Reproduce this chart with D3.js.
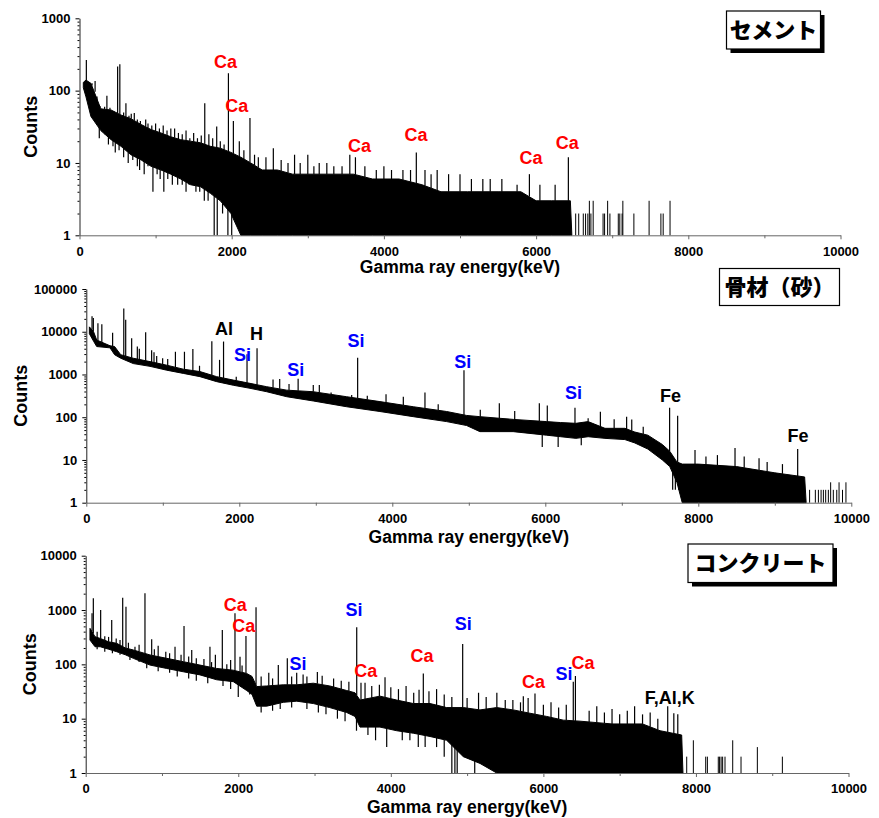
<!DOCTYPE html>
<html>
<head>
<meta charset="utf-8">
<script src="https://cdn.jsdelivr.net/npm/d3@7"></script>
<style>
body { margin: 0; background: #fff; }
svg text { font-family: "Liberation Sans", Arial, sans-serif; font-weight: bold; fill: #000; }
svg text.jp { font-family: "Noto Sans CJK JP", sans-serif; font-weight: 900; }
</style>
</head>
<body>
<script>
(function() {

    // ---- セメント (cement) ----
    var cementE  = [50, 85, 150, 280, 415, 545, 675, 810, 940, 1070, 1200, 1330, 1460, 1590, 1720, 1850, 1990, 2120, 2250, 2400, 2600, 2800, 3200, 3600, 3850, 4200, 4500, 4750, 5100, 5500, 5800, 6000, 6200, 6450, 6470];
    var cementHi = [130, 140, 126, 56, 54, 46, 41, 34, 29, 26, 23, 21, 20, 19, 17, 16, 14, 12, 10, 8, 8, 7, 7, 7, 6, 6, 5, 4, 4, 4, 4, 3, 3, 3, 1];
    var cementLo = [110, 82, 44, 28, 21, 17, 13, 11, 9, 8, 7, 6, 5, 4.7, 3.8, 3, 2, 1, 1, 1, 1, 1, 1, 1, 1, 1, 1, 1, 1, 1, 1, 1, 1, 1, 1];
    var cementPeakE = [90, 165, 205, 230, 270, 300, 330, 360, 400, 450, 501, 530, 580, 610, 650, 680, 720, 760, 800, 870, 900, 950, 1000, 1050, 1100, 1150, 1200, 1250, 1300, 1350, 1400, 1450, 1500, 1550, 1600, 1646, 1700, 1750, 1803, 1850, 1900, 1957, 2022, 2100, 2160, 2240, 2300, 2350, 2450, 2547, 2650, 2740, 2826, 2900, 3000, 3080, 3150, 3250, 3342, 3450, 3552, 3626, 3750, 3900, 4000, 4100, 4250, 4350, 4426, 4540, 4620, 4700, 4850, 5000, 5150, 5300, 5397, 5550, 5750, 5912, 6050, 6250, 6424];
    var cementPeakC = [265, 126, 136, 70, 60, 55, 60, 85, 58, 50, 215, 232, 50, 67, 45, 48, 49, 40, 38, 40, 35, 33, 35, 30, 33, 28, 30, 30, 26, 25, 28, 22, 26, 22, 24, 67, 25, 22, 32, 20, 18, 174, 38, 20, 15, 42, 13, 12, 12, 16, 11, 10, 13, 10, 13, 9, 10, 10, 9, 9, 13, 12, 9, 8, 9, 8, 8, 8, 14, 8, 7, 8, 7, 7, 6, 6, 6, 6, 5, 7, 5, 5, 12];
    var cementDipE = [260, 330, 380, 440, 470, 520, 580, 640, 700, 760, 790, 850, 900, 965, 1020, 1060, 1108, 1160, 1220, 1290, 1350, 1400, 1440, 1530, 1580, 1640, 1690, 1770, 1810, 1880, 1950, 2000];
    var cementDipC = [22, 25, 18, 17, 14, 15, 12, 10, 11, 9, 8, 7, 9, 4, 7, 6, 4, 6, 5, 5, 5, 4, 5, 4, 4, 3, 3, 1, 1, 2, 1, 1];
    var cementSparseE = [6520, 6560, 6620, 6650, 6680, 6700, 6720, 6750, 6880, 6900, 6940, 6970, 7080, 7100, 7130, 7140, 7285, 7485, 7640, 7670, 7760];
    var cementSparseC = [2, 2, 2, 2, 2, 3, 2, 3, 2, 2, 3, 2, 2, 2, 2, 3, 2, 3, 2, 2, 3];
    var cementLabelName = ["Ca", "Ca", "Ca", "Ca", "Ca", "Ca"];
    var cementLabelE = [1918, 2067, 3681, 4422, 5933, 6411];
    var cementLabelC = [249, 62, 17.3, 24.4, 11.8, 19.3];

    // ---- 骨材(砂) (aggregate, sand) ----
    var sandE  = [40, 95, 136, 310, 370, 450, 614, 833, 1051, 1268, 1486, 1704, 1921, 2140, 2358, 2620, 2967, 3402, 3838, 4274, 4710, 4971, 5145, 5580, 6016, 6200, 6400, 6560, 6780, 7040, 7170, 7340, 7530, 7627, 7720, 7790, 8000, 8500, 9000, 9390, 9410];
    var sandHi = [13000, 10000, 6400, 4700, 4500, 2900, 2400, 2000, 1650, 1330, 1170, 890, 740, 620, 518, 430, 395, 302, 232, 176, 136, 110, 103, 89, 79, 75, 72, 79, 55, 55, 45, 38, 23, 16, 9, 8, 8, 7, 5, 4, 1];
    var sandLo = [9000, 6000, 4500, 4200, 2900, 2400, 1800, 1550, 1260, 1060, 890, 680, 560, 475, 395, 302, 240, 176, 136, 103, 79, 64, 46, 46, 38, 35, 32, 35, 32, 30, 25, 18, 10, 7, 3, 1, 1, 1, 1, 1, 1];
    var sandPeakE = [75, 92, 152, 203, 344, 490, 515, 593, 667, 693, 776, 854, 885, 920, 998, 1064, 1165, 1283, 1393, 1480, 1641, 1742, 1794, 1960, 2101, 2232, 2441, 2528, 2650, 2769, 2967, 3046, 3200, 3469, 3547, 3673, 3918, 4144, 4427, 4600, 4937, 5150, 5399, 5600, 5922, 6026, 6388, 6560, 6720, 6900, 7063, 7130, 7280, 7625, 7730, 7957, 8100, 8250, 8480, 8600, 8794, 8900, 9100, 9299];
    var sandPeakC = [23000, 21000, 15800, 15000, 9500, 35000, 19000, 7000, 4500, 4000, 9700, 3700, 3300, 2700, 2400, 2300, 3400, 3400, 3960, 1600, 6000, 2200, 5900, 890, 2970, 4100, 760, 780, 600, 790, 570, 570, 380, 330, 2470, 320, 345, 300, 380, 200, 1260, 150, 213, 140, 213, 187, 167, 94, 134, 90, 103, 89, 60, 167, 108, 17, 12, 13, 19, 12, 11, 9, 8, 18];
    var sandDipE = [5960, 6168, 6470, 7665, 7700, 7745];
    var sandDipC = [20, 20, 22, 2, 2, 2];
    var sandSparseE = [9455, 9530, 9570, 9605, 9635, 9665, 9700, 9730, 9765, 9810, 9840, 9885, 9930];
    var sandSparseC = [2, 2, 2, 2, 2, 2, 2, 3, 2, 2, 3, 2, 3];
    var sandLabelName = ["Al", "H", "Si", "Si", "Si", "Si", "Si", "Fe", "Fe"];
    var sandLabelE = [1801, 2224, 2042, 2737, 3525, 4920, 6370, 7638, 9303];
    var sandLabelC = [12000, 9190, 2966, 1300, 6070, 2034, 365, 322, 37];

    // ---- コンクリート (concrete) ----
    var concE  = [56, 122, 190, 300, 406, 520, 624, 843, 1062, 1279, 1498, 1717, 1935, 2110, 2180, 2242, 2373, 2590, 2766, 2984, 3200, 3421, 3530, 3596, 3858, 4077, 4295, 4514, 4732, 4950, 5169, 5388, 5606, 5824, 6043, 6261, 6480, 6900, 7300, 7530, 7813, 7830];
    var concHi = [460, 323, 300, 260, 244, 200, 184, 149, 129, 112, 97, 84, 78, 68, 60, 39, 40, 42, 42, 45, 40, 33, 30, 22, 26, 22, 19, 19, 16, 16, 14.5, 16, 14.5, 12.6, 11, 9.4, 9, 8, 8, 6, 5, 1];
    var concLo = [280, 211, 211, 190, 171, 150, 129, 97, 84, 73, 64, 52, 48, 33, 28, 17, 17, 20, 21, 19, 16, 13, 11, 7, 7, 6, 5.4, 4.7, 4, 2, 1.5, 1, 1, 1, 1, 1, 1, 1, 1, 1, 1, 1];
    var concPeakE = [83, 100, 150, 196, 250, 300, 341, 400, 450, 485, 528, 560, 646, 700, 777, 865, 900, 950, 1050, 1100, 1171, 1250, 1289, 1350, 1390, 1450, 1550, 1629, 1650, 1700, 1791, 1850, 1900, 1957, 2023, 2050, 2101, 2233, 2300, 2400, 2450, 2525, 2643, 2700, 2766, 2850, 2900, 3037, 3100, 3250, 3350, 3450, 3553, 3609, 3662, 3750, 3850, 3924, 4000, 4100, 4200, 4300, 4370, 4426, 4500, 4600, 4700, 4800, 4942, 5000, 5150, 5250, 5390, 5500, 5600, 5700, 5737, 5800, 5890, 6000, 6100, 6200, 6300, 6392, 6420, 6600, 6700, 6800, 6900, 7000, 7100, 7196, 7300, 7400, 7500, 7630, 7710, 7762];
    var concPeakC = [870, 1640, 400, 1000, 330, 320, 655, 300, 280, 1690, 1150, 250, 210, 230, 2030, 290, 190, 220, 170, 160, 210, 150, 508, 140, 184, 130, 125, 210, 110, 150, 428, 100, 120, 870, 138, 95, 333, 1120, 60, 70, 55, 97, 130, 60, 70, 65, 60, 72, 62, 55, 50, 48, 480, 46, 46, 40, 42, 58, 38, 35, 40, 30, 34, 68, 32, 35, 28, 25, 237, 24, 30, 25, 30, 22, 22, 20, 26, 24, 29, 18, 20, 16, 18, 48, 61, 14, 17, 13, 15, 12, 14, 17, 12, 13, 10, 17, 12.6, 12];
    var concDipE = [150, 250, 350, 450, 580, 700, 800, 950, 1100, 1200, 1350, 1450, 1600, 1800, 1900, 2000, 2150, 2300, 2450, 2550, 2700, 2900, 3050, 3150, 3300, 3400, 3550, 3700, 3800, 3946, 4150, 4250, 4360, 4450, 4600, 4700, 4800, 4840, 4870, 5100];
    var concDipC = [190, 170, 160, 150, 120, 110, 85, 75, 70, 60, 55, 50, 45, 40, 35, 25, 28, 13, 14, 15, 16, 15, 13, 12, 10, 9, 6, 5, 4, 3, 4, 4, 3, 3, 3, 2, 1, 1, 1, 1];
    var concSparseE = [7879, 7966, 8128, 8150, 8293, 8310, 8330, 8350, 8381, 8482, 8591, 8805, 9133];
    var concSparseC = [2, 4, 2, 2, 2, 2, 2, 2, 2, 4, 2, 3, 2];
    var concLabelName = ["Ca", "Ca", "Si", "Si", "Ca", "Ca", "Si", "Ca", "Si", "Ca", "F,Al,K"];
    var concLabelE = [1960, 2073, 2783, 3517, 3671, 4409, 4950, 5870, 6270, 6519, 7657];
    var concLabelC = [1274, 508, 103, 1030, 77.7, 144, 569, 47.9, 67, 105, 24.7];

    var xTicks = [0, 2000, 4000, 6000, 8000, 10000];
    var xMinor = [1000, 3000, 5000, 7000, 9000];

    var svg = d3.select("body")
        .append("svg")
        .attr("width", 879)
        .attr("height", 818);

    var panels = [
        { title: "セメント", yMax: 1000, left: 79.5, right: 840.5, top: 18.3, bottom: 235.3,
          countsX: 30.5, titleY: 273, box: [726.5, 11, 94, 38], shadow: true,
          E: cementE, hi: cementHi, lo: cementLo, peakE: cementPeakE, peakC: cementPeakC,
          dipE: cementDipE, dipC: cementDipC, sparseE: cementSparseE, sparseC: cementSparseC,
          labName: cementLabelName, labE: cementLabelE, labC: cementLabelC },
        { title: "骨材（砂）", yMax: 100000, left: 86.3, right: 851.3, top: 289, bottom: 502.7,
          countsX: 20.5, titleY: 543, box: [719.5, 268.5, 120, 37], shadow: false,
          E: sandE, hi: sandHi, lo: sandLo, peakE: sandPeakE, peakC: sandPeakC,
          dipE: sandDipE, dipC: sandDipC, sparseE: sandSparseE, sparseC: sandSparseC,
          labName: sandLabelName, labE: sandLabelE, labC: sandLabelC },
        { title: "コンクリート", yMax: 10000, left: 85.7, right: 848.5, top: 555.7, bottom: 773,
          countsX: 29.5, titleY: 813, box: [688, 544, 145, 38.5], shadow: true,
          E: concE, hi: concHi, lo: concLo, peakE: concPeakE, peakC: concPeakC,
          dipE: concDipE, dipC: concDipC, sparseE: concSparseE, sparseC: concSparseC,
          labName: concLabelName, labE: concLabelE, labC: concLabelC }
    ];

    panels.forEach(drawPanel);

    function labelColor(name) {
        if (name == "Ca") return "#ff0000";
        if (name == "Si") return "#0000ff";
        return "#000";
    }

    function isDecade(d) {
        var l = Math.log10(d);
        return Math.abs(l - Math.round(l)) < 1e-9;
    }

    function drawPanel(p) {
        var x = d3.scaleLinear().domain([0, 10000]).range([p.left, p.right]);
        var y = d3.scaleLog().domain([1, p.yMax]).range([p.bottom, p.top]).clamp(true);

        // band edges as piecewise scales, used as the foot of each spike
        var hiAt = d3.scaleLinear().domain(p.E).range(p.hi).clamp(true);
        var loAt = d3.scaleLinear().domain(p.E).range(p.lo).clamp(true);

        var g = svg.append("g");

        var band = d3.area()
            .x(function(d, i) { return x(p.E[i]); })
            .y0(function(d, i) { return y(p.lo[i]); })
            .y1(function(d, i) { return y(p.hi[i]); });

        g.append("path")
            .datum(p.E)
            .attr("d", band)
            .attr("fill", "#000")
            .attr("stroke", "#000")
            .attr("stroke-width", 1)
            .attr("stroke-linejoin", "round");

        g.selectAll(".peak")
            .data(p.peakE)
            .enter()
            .append("line")
            .attr("class", "peak")
            .attr("x1", function(d) { return x(d); })
            .attr("x2", function(d) { return x(d); })
            .attr("y1", function(d) { return y(hiAt(d)); })
            .attr("y2", function(d, i) { return y(p.peakC[i]); })
            .attr("stroke", "#000")
            .attr("stroke-width", 1.2);

        g.selectAll(".dip")
            .data(p.dipE)
            .enter()
            .append("line")
            .attr("class", "dip")
            .attr("x1", function(d) { return x(d); })
            .attr("x2", function(d) { return x(d); })
            .attr("y1", function(d) { return y(loAt(d)); })
            .attr("y2", function(d, i) { return y(p.dipC[i]); })
            .attr("stroke", "#000")
            .attr("stroke-width", 1.2);

        g.selectAll(".sparse")
            .data(p.sparseE)
            .enter()
            .append("line")
            .attr("class", "sparse")
            .attr("x1", function(d) { return x(d); })
            .attr("x2", function(d) { return x(d); })
            .attr("y1", y(1))
            .attr("y2", function(d, i) { return y(p.sparseC[i]); })
            .attr("stroke", "#000")
            .attr("stroke-width", 1);

        // axes
        var minor = y.ticks().filter(function(d) { return !isDecade(d); });
        var major = y.ticks().filter(isDecade);

        g.append("g")
            .attr("transform", "translate(" + x(0) + ",0)")
            .call(d3.axisLeft(y).tickValues(minor).tickSize(2).tickSizeOuter(0).tickFormat(""))
            .call(function(a) { a.select(".domain").remove(); });

        var yAxis = g.append("g")
            .attr("transform", "translate(" + x(0) + ",0)")
            .call(d3.axisLeft(y).tickValues(major).tickSize(4).tickSizeOuter(0)
                .tickPadding(5).tickFormat(d3.format("d")));
        yAxis.selectAll("text").style("font-size", "13px");
        yAxis.select(".domain").attr("stroke", "#222");

        g.append("g")
            .attr("transform", "translate(0," + y(1) + ")")
            .call(d3.axisBottom(x).tickValues(xMinor).tickSize(3).tickSizeOuter(0).tickFormat(""))
            .call(function(a) { a.select(".domain").remove(); a.selectAll("line").attr("stroke", "#666"); });

        var xAxis = g.append("g")
            .attr("transform", "translate(0," + y(1) + ")")
            .call(d3.axisBottom(x).tickValues(xTicks).tickSize(4).tickSizeOuter(0)
                .tickPadding(7).tickFormat(d3.format("d")));
        xAxis.selectAll("text").style("font-size", "13px");
        xAxis.select(".domain").attr("stroke", "#666");
        xAxis.selectAll("line").attr("stroke", "#666");

        g.append("text")
            .attr("transform", "translate(" + p.countsX + "," + ((p.top + p.bottom) / 2) + ") rotate(-90)")
            .attr("text-anchor", "middle")
            .attr("dy", "0.35em")
            .style("font-size", "18px")
            .text("Counts");

        g.append("text")
            .attr("x", (p.left + p.right) / 2)
            .attr("y", p.titleY)
            .attr("text-anchor", "middle")
            .style("font-size", "17.5px")
            .text("Gamma ray energy(keV)");

        // element labels
        g.selectAll(".elem")
            .data(p.labName)
            .enter()
            .append("text")
            .attr("class", "elem")
            .attr("x", function(d, i) { return x(p.labE[i]); })
            .attr("y", function(d, i) { return y(p.labC[i]); })
            .attr("dy", "0.35em")
            .attr("text-anchor", "middle")
            .style("font-size", "18px")
            .style("fill", function(d) { return labelColor(d); })
            .text(function(d) { return d; });

        // sample name box
        var b = p.box;
        if (p.shadow) {
            g.append("rect")
                .attr("x", b[0] + 4).attr("y", b[1] + 4)
                .attr("width", b[2]).attr("height", b[3])
                .attr("fill", "#000");
        }
        g.append("rect")
            .attr("x", b[0]).attr("y", b[1])
            .attr("width", b[2]).attr("height", b[3])
            .attr("fill", "#fff")
            .attr("stroke", "#000")
            .attr("stroke-width", 1.2);
        g.append("text")
            .attr("class", "jp")
            .attr("x", b[0] + b[2] / 2)
            .attr("y", b[1] + b[3] / 2)
            .attr("dy", "0.36em")
            .attr("text-anchor", "middle")
            .style("font-size", "22px")
            .text(p.title);
    }

})();
</script>
</body>
</html>
